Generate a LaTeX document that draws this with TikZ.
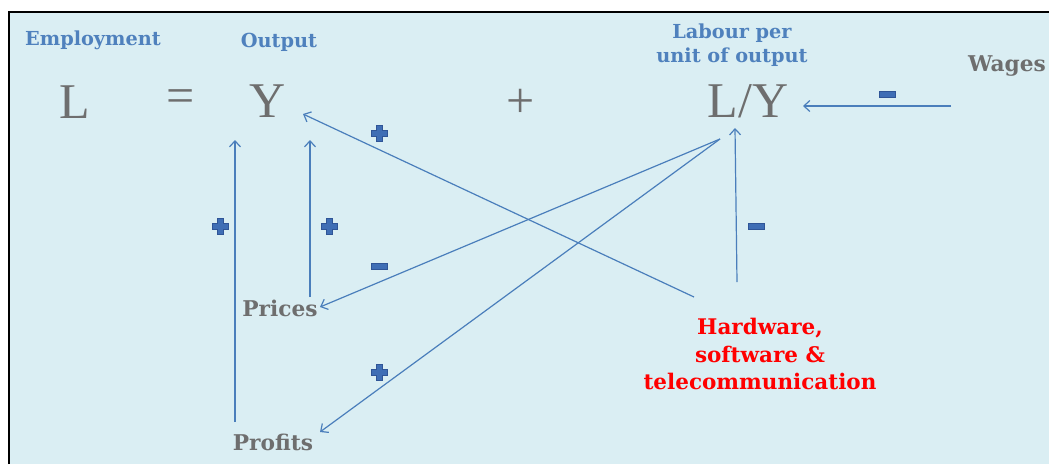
\documentclass[tikz,border=0pt]{standalone}
\usepackage{fontspec}
\setmainfont{DejaVu Serif}
\newfontfamily\bigserif{Liberation Serif}
\usetikzlibrary{arrows.meta}
\definecolor{bg}{HTML}{DAEEF3}
\definecolor{lblue}{HTML}{4F81BD}
\definecolor{gtext}{HTML}{6E6E6E}
\definecolor{arr}{HTML}{4A7EBB}
\definecolor{signfill}{HTML}{3F6EB5}
\definecolor{signdraw}{HTML}{2F5597}
\definecolor{redtext}{HTML}{FF0000}
\tikzset{
  bluelabel/.style={text=lblue, font=\bfseries\fontsize{19.3}{24}\selectfont, align=center, inner sep=0pt},
  graylabel/.style={text=gtext, font=\bfseries\fontsize{21.7}{24}\selectfont, inner sep=0pt},
  bigsym/.style={text=gtext, font=\bigserif\fontsize{50}{55}\selectfont, inner sep=0pt},
  redlabel/.style={text=redtext, font=\bfseries\fontsize{21.5}{27.5}\selectfont, align=center, inner sep=0pt},
  link/.style={draw=arr, line width=1.2pt, -{Straight Barb[length=6pt,width=11pt,line width=1.2pt]}},
  signstyle/.style={fill=signfill, draw=signdraw, line width=0.9pt},
  plusmark/.pic={\filldraw[signstyle] (-3,-8) -- (3,-8) -- (3,-3) -- (8,-3) -- (8,3) -- (3,3) -- (3,8) -- (-3,8) -- (-3,3) -- (-8,3) -- (-8,-3) -- (-3,-3) -- cycle;},
  minusmark/.pic={\filldraw[signstyle] (-8,-3) rectangle (8,3);}
}
\begin{document}
\begin{tikzpicture}[x=1pt,y=-1pt]
\useasboundingbox (0,0) rectangle (1049,464);
\fill[white] (0,0) rectangle (1049,464);
\fill[bg] (9,12) rectangle (1049,464);
\draw[black, line width=2.5pt] (9,464) -- (9,12) -- (1049,12);

% labels
\node[bluelabel] (employment) at (93,40) {Employment};
\node[bluelabel] (output) at (279,42) {Output};
\node[bluelabel] (labour) at (732,45) {Labour per\\unit of output};
\node[graylabel] (wages) at (1007,66) {Wages};

% equation
\node[bigsym] (L) at (75,102) {L};
\node[bigsym] (eq) at (181,101) {=};
\node[bigsym] (Y) at (268,101) {Y};
\node[bigsym] (plus) at (521,103) {+};
\node[bigsym] (LY) at (748,101) {L/Y};

\node[graylabel] (prices) at (280,308) {Prices};
\node[graylabel] (profits) at (273,442) {Profits};
\node[redlabel] (hw) at (760,354) {Hardware,\\software \&\\telecommunication};

% connector end points
\coordinate (wS) at (951,106);
\coordinate (LYr) at (803,106);
\coordinate (a1s) at (235,422);
\coordinate (a1e) at (235,140);
\coordinate (a2s) at (310,297);
\coordinate (a2e) at (310,140);
\coordinate (hwA) at (694,297);
\coordinate (Yin) at (303,114);
\coordinate (LYout) at (720,139);
\coordinate (prIn) at (320,307);
\coordinate (pfIn) at (320,432);
\coordinate (hwB) at (737,282);
\coordinate (LYb) at (735,128);

\draw[link] (wS) -- (LYr);
\draw[link] (a1s) -- (a1e);
\draw[link] (a2s) -- (a2e);
\draw[link] (hwA) -- (Yin);
\draw[link] (LYout) -- (prIn);
\draw[link] (LYout) -- (pfIn);
\draw[link] (hwB) -- (LYb);

% signs
\pic at (887,94) {minusmark};
\pic at (379,266) {minusmark};
\pic at (756,226) {minusmark};
\pic at (379,133) {plusmark};
\pic at (220,226) {plusmark};
\pic at (329,226) {plusmark};
\pic at (379,372) {plusmark};
\end{tikzpicture}
\end{document}
